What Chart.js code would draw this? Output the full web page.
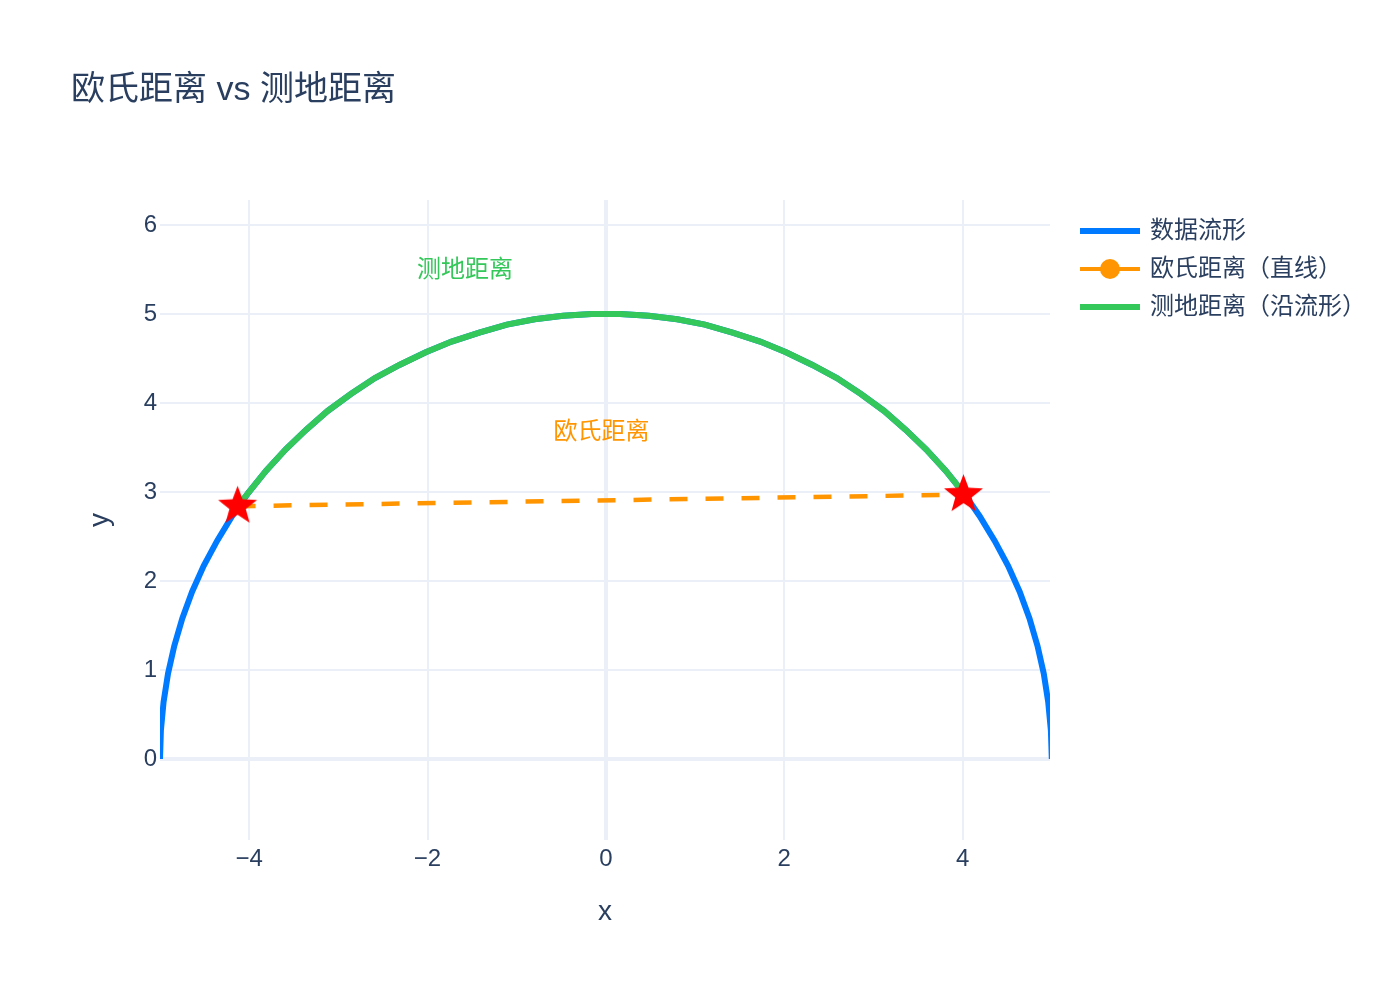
<!DOCTYPE html>
<html lang="zh">
<head>
<meta charset="utf-8">
<title>欧氏距离 vs 测地距离</title>
<script src="https://cdn.jsdelivr.net/npm/chart.js@4.4.1/dist/chart.umd.min.js"></script>
<style>
  html, body { margin: 0; padding: 0; background: #ffffff; }
  #wrap { width: 1400px; height: 1000px; }
</style>
</head>
<body>
<div id="wrap"><canvas id="chart" width="1400" height="1000"></canvas></div>
<script>
// manifold (semicircle) points
const manifoldX = [5.00, 4.99, 4.96, 4.91, 4.84, 4.75, 4.64, 4.51, 4.36, 4.19, 4.01, 3.81, 3.59, 3.36, 3.12, 2.86, 2.59, 2.31, 2.02, 1.73, 1.42, 1.11, 0.80, 0.48, 0.16,
                   -0.16, -0.48, -0.80, -1.11, -1.42, -1.73, -2.02, -2.31, -2.59, -2.86, -3.12, -3.36, -3.59, -3.81, -4.01, -4.19, -4.36, -4.51, -4.64, -4.75, -4.84, -4.91, -4.96, -4.99, -5.00];
const manifoldY = [0.00, 0.32, 0.64, 0.96, 1.27, 1.58, 1.88, 2.17, 2.45, 2.73, 2.99, 3.24, 3.48, 3.70, 3.91, 4.10, 4.28, 4.43, 4.57, 4.69, 4.79, 4.88, 4.94, 4.98, 5.00,
                   5.00, 4.98, 4.94, 4.88, 4.79, 4.69, 4.57, 4.43, 4.28, 4.10, 3.91, 3.70, 3.48, 3.24, 2.99, 2.73, 2.45, 2.17, 1.88, 1.58, 1.27, 0.96, 0.64, 0.32, 0.00];

// geodesic path along the manifold between the two end points
const geoX = [-4.13, -4.01, -3.81, -3.59, -3.36, -3.12, -2.86, -2.59, -2.31, -2.02, -1.73, -1.42, -1.11, -0.80, -0.48, -0.16,
              0.16, 0.48, 0.80, 1.11, 1.42, 1.73, 2.02, 2.31, 2.59, 2.86, 3.12, 3.36, 3.59, 3.81, 4.01];
const geoY = [2.84, 2.99, 3.24, 3.48, 3.70, 3.91, 4.10, 4.28, 4.43, 4.57, 4.69, 4.79, 4.88, 4.94, 4.98, 5.00,
              5.00, 4.98, 4.94, 4.88, 4.79, 4.69, 4.57, 4.43, 4.28, 4.10, 3.91, 3.70, 3.48, 3.24, 2.99];

// the two end points (stars) and the straight euclidean segment
const endX = [-4.13, 4.01];
const endY = [2.84, 2.97];

const xTicks = [-4, -2, 0, 2, 4];
const yTicks = [0, 1, 2, 3, 4, 5, 6];

const seriesNames = ['数据流形', '欧氏距离（直线）', '测地距离（沿流形）'];
const noteTexts = ['测地距离', '欧氏距离'];
const noteX = [-1.58, -0.05];
const noteY = [5.49, 3.67];

const BLUE = '#007AFF';
const ORANGE = '#FF9500';
const GREEN = '#34C759';
const TEXT = '#2a3f5f';
const GRID = '#ebf0f8';
const FONT = "'Liberation Sans', 'Noto Sans CJK SC', sans-serif";

function toPoints(xs, ys) {
    return xs.map((x, i) => ({ x: x, y: ys[i] }));
}

// filled five point star used as marker
function makeStar(r, color) {
    const size = Math.ceil(r * 2 + 4);
    const c = document.createElement('canvas');
    c.width = size;
    c.height = size;
    const g = c.getContext('2d');
    g.translate(size / 2, size / 2);
    g.beginPath();
    for (let i = 0; i < 10; i++) {
        const a = -Math.PI / 2 + i * Math.PI / 5;
        const rr = i % 2 === 0 ? r : r * 0.42;
        g.lineTo(Math.cos(a) * rr, Math.sin(a) * rr);
    }
    g.closePath();
    g.fillStyle = color;
    g.fill();
    return c;
}

// legend sample: short line, optional dot
function makeLegendIcon(color, lw, dot) {
    const c = document.createElement('canvas');
    c.width = 80;
    c.height = 24;
    const g = c.getContext('2d');
    g.strokeStyle = color;
    g.lineWidth = lw;
    g.beginPath();
    g.moveTo(19, 12);
    g.lineTo(79, 12);
    g.stroke();
    if (dot) {
        g.fillStyle = color;
        g.beginPath();
        g.arc(49, 12, 10, 0, Math.PI * 2);
        g.fill();
    }
    return c;
}

const starImg = makeStar(20.5, '#ff0000');
const legendIcons = [makeLegendIcon(BLUE, 6, false), makeLegendIcon(ORANGE, 4, true), makeLegendIcon(GREEN, 6, false)];

// text notes placed in data coordinates
const notesPlugin = {
    id: 'notes',
    afterDatasetsDraw(chart) {
        const ctx = chart.ctx;
        const xs = chart.scales.x;
        const ys = chart.scales.y;
        const colors = [GREEN, ORANGE];
        ctx.save();
        ctx.font = '24px ' + FONT;
        ctx.textAlign = 'center';
        ctx.textBaseline = 'middle';
        noteTexts.forEach((t, i) => {
            ctx.fillStyle = colors[i];
            ctx.fillText(t, xs.getPixelForValue(noteX[i]), ys.getPixelForValue(noteY[i]));
        });
        ctx.restore();
    }
};

const legendRank = { 'manifold': 0, 'euclid': 1, 'geodesic': 2 };

new Chart(document.getElementById('chart'), {
    type: 'scatter',
    data: {
        datasets: [
            {
                key: 'stars',
                label: 'stars',
                data: toPoints(endX, endY),
                showLine: false,
                pointStyle: starImg,
                pointRadius: 20,
                order: 0
            },
            {
                key: 'geodesic',
                label: seriesNames[2],
                data: toPoints(geoX, geoY),
                showLine: true,
                borderColor: GREEN,
                backgroundColor: GREEN,
                borderWidth: 6,
                pointRadius: 0,
                tension: 0,
                order: 1
            },
            {
                key: 'euclid',
                label: seriesNames[1],
                data: toPoints(endX, endY),
                showLine: true,
                borderColor: ORANGE,
                backgroundColor: ORANGE,
                borderWidth: 4.5,
                borderDash: [18, 18],
                pointRadius: 8,
                pointBorderWidth: 0,
                order: 2
            },
            {
                key: 'manifold',
                label: seriesNames[0],
                data: toPoints(manifoldX, manifoldY),
                showLine: true,
                borderColor: BLUE,
                backgroundColor: BLUE,
                borderWidth: 6,
                pointRadius: 0,
                tension: 0,
                order: 3
            }
        ]
    },
    options: {
        responsive: false,
        devicePixelRatio: 1,
        animation: false,
        layout: { padding: { left: 71, right: 50, top: 0, bottom: 0 } },
        scales: {
            x: {
                type: 'linear',
                min: -5.0,
                max: 4.98,
                afterBuildTicks: s => { s.ticks = xTicks.map(v => ({ value: v })); },
                afterFit: s => { s.height = 160; },
                border: { display: false },
                grid: {
                    color: GRID,
                    lineWidth: c => (c.tick && c.tick.value === 0 ? 4 : 2),
                    drawTicks: false
                },
                ticks: {
                    padding: 5,
                    color: TEXT,
                    font: { size: 24, family: FONT },
                    maxRotation: 0,
                    callback: v => String(v).replace('-', '\u2212')
                },
                title: {
                    display: true,
                    text: 'x',
                    color: TEXT,
                    font: { size: 28, family: FONT },
                    padding: { top: 0, bottom: 71 }
                }
            },
            y: {
                type: 'linear',
                min: -0.91,
                max: 6.28,
                afterBuildTicks: s => { s.ticks = yTicks.map(v => ({ value: v })); },
                afterFit: s => { s.width = 89; },
                border: { display: false },
                grid: {
                    color: GRID,
                    lineWidth: c => (c.tick && c.tick.value === 0 ? 4 : 2),
                    drawTicks: false
                },
                ticks: {
                    padding: 3,
                    color: TEXT,
                    font: { size: 24, family: FONT },
                    callback: v => String(v).replace('-', '\u2212')
                },
                title: {
                    display: true,
                    text: 'y',
                    color: TEXT,
                    font: { size: 28, family: FONT },
                    padding: { top: 12, bottom: 0 }
                }
            }
        },
        plugins: {
            tooltip: { enabled: false },
            title: {
                display: true,
                text: '欧氏距离 vs 测地距离',
                align: 'start',
                color: TEXT,
                font: { size: 34, weight: 'normal', family: FONT },
                padding: { top: 70.6, bottom: 88.6 }
            },
            legend: {
                display: true,
                position: 'right',
                align: 'start',
                fullSize: false,
                maxWidth: 300,
                title: { display: true, text: ' ', font: { size: 2 }, padding: { top: 0, bottom: 2.6 } },
                labels: {
                    usePointStyle: true,
                    pointStyleWidth: 74,
                    padding: 14,
                    color: TEXT,
                    font: { size: 24, family: FONT },
                    filter: item => item.datasetIndex !== 0,
                    sort: (a, b) => legendRank[a.key] - legendRank[b.key],
                    generateLabels: chart => {
                        const items = Chart.defaults.plugins.legend.labels.generateLabels(chart);
                        return items.map(item => {
                            const ds = chart.data.datasets[item.datasetIndex];
                            item.key = ds.key;
                            if (ds.key in legendRank) {
                                item.pointStyle = legendIcons[legendRank[ds.key]];
                            }
                            item.lineWidth = 0;
                            return item;
                        });
                    }
                }
            }
        }
    },
    plugins: [notesPlugin]
});
</script>
</body>
</html>
